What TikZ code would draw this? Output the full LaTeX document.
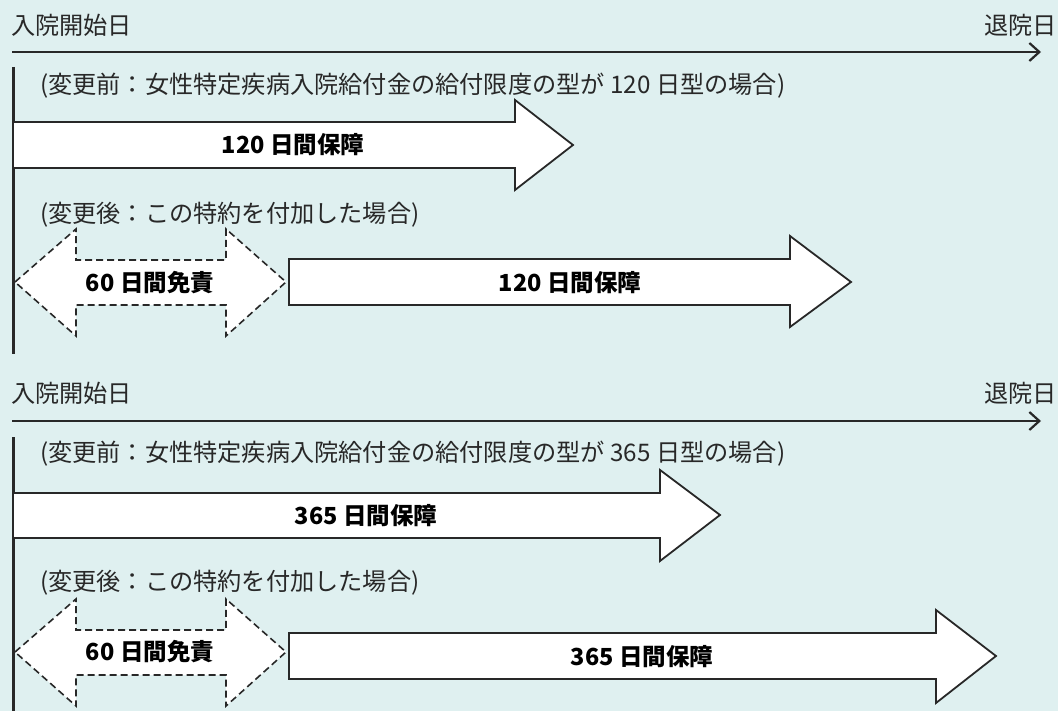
\documentclass[tikz,border=0pt]{standalone}
\usepackage{fontspec}
\setmainfont{Noto Sans CJK JP}
\usetikzlibrary{arrows.meta}
\definecolor{bg}{RGB}{223,240,240}
\definecolor{ink}{RGB}{40,40,40}
\begin{document}
\begin{tikzpicture}[x=1pt,y=-1pt,
  txt/.style={inner sep=0pt, text=ink, font=\fontsize{24.2}{29}\selectfont},
  lbl/.style={inner sep=0pt, text=black, font=\fontsize{23.5}{28}\selectfont\bfseries},
  timeline/.style={draw=ink, line width=2.6pt, -{Straight Barb[length=10pt,width=18pt,line width=2.2pt]}},
  vline/.style={draw=ink, line width=3pt},
  solidarrow/.style={draw=ink, fill=white, line width=1.8pt, line join=miter},
  dasharrow/.style={draw=ink, fill=white, line width=1.6pt, dash pattern=on 7pt off 4pt}]
\fill[bg] (0,0) rectangle (1058,711);
\useasboundingbox (0,0) rectangle (1058,711);

% ---------- section 1 ----------
\node[txt, anchor=west] (s1in) at (11,25) {入院開始日};
\node[txt, anchor=east] (s1out) at (1057,25) {退院日};
\coordinate (t1a) at (12,52);
\coordinate (t1b) at (1041,52);
\draw[timeline] (t1a) -- (t1b);
\coordinate (v1a) at (13,67);
\coordinate (v1b) at (13,354);
\draw[vline] (v1a) -- (v1b);
\node[txt, anchor=west] (s1pre) at (40,86) {(変更前：女性特定疾病入院給付金の給付限度の型が 120 日型の場合)};
\draw[solidarrow] (13,122) -- (515,122) -- (515,100) -- (573,145) -- (515,190) -- (515,168) -- (13,168) -- cycle;
\node[lbl] (s1a) at (293,145) {120 日間保障};
\node[txt, anchor=west] (s1post) at (40,215) {(変更後：この特約を付加した場合)};
\draw[dasharrow] (15,282) -- (76,229) -- (76,260) -- (226,260) -- (226,229) -- (286,282) -- (226,336) -- (226,305) -- (76,305) -- (76,336) -- cycle;
\node[lbl] (s1b) at (150,283) {60 日間免責};
\draw[solidarrow] (289,259) -- (790,259) -- (790,236) -- (851,282) -- (790,327) -- (790,305) -- (289,305) -- cycle;
\node[lbl] (s1c) at (570,283) {120 日間保障};

% ---------- section 2 ----------
\node[txt, anchor=west] (s2in) at (11,393) {入院開始日};
\node[txt, anchor=east] (s2out) at (1057,393) {退院日};
\coordinate (t2a) at (12,421);
\coordinate (t2b) at (1041,421);
\draw[timeline] (t2a) -- (t2b);
\coordinate (v2a) at (13,437);
\coordinate (v2b) at (13,711);
\draw[vline] (v2a) -- (v2b);
\node[txt, anchor=west] (s2pre) at (40,454) {(変更前：女性特定疾病入院給付金の給付限度の型が 365 日型の場合)};
\draw[solidarrow] (13,493) -- (660,493) -- (660,470) -- (720,515) -- (660,561) -- (660,538) -- (13,538) -- cycle;
\node[lbl] (s2a) at (366,516) {365 日間保障};
\node[txt, anchor=west] (s2post) at (40,583) {(変更後：この特約を付加した場合)};
\draw[dasharrow] (15,652) -- (76,599) -- (76,630) -- (226,630) -- (226,599) -- (286,652) -- (226,706) -- (226,675) -- (76,675) -- (76,706) -- cycle;
\node[lbl] (s2b) at (150,652) {60 日間免責};
\draw[solidarrow] (289,633) -- (936,633) -- (936,610) -- (996,656) -- (936,703) -- (936,679) -- (289,679) -- cycle;
\node[lbl] (s2c) at (642,657) {365 日間保障};
\end{tikzpicture}
\end{document}
